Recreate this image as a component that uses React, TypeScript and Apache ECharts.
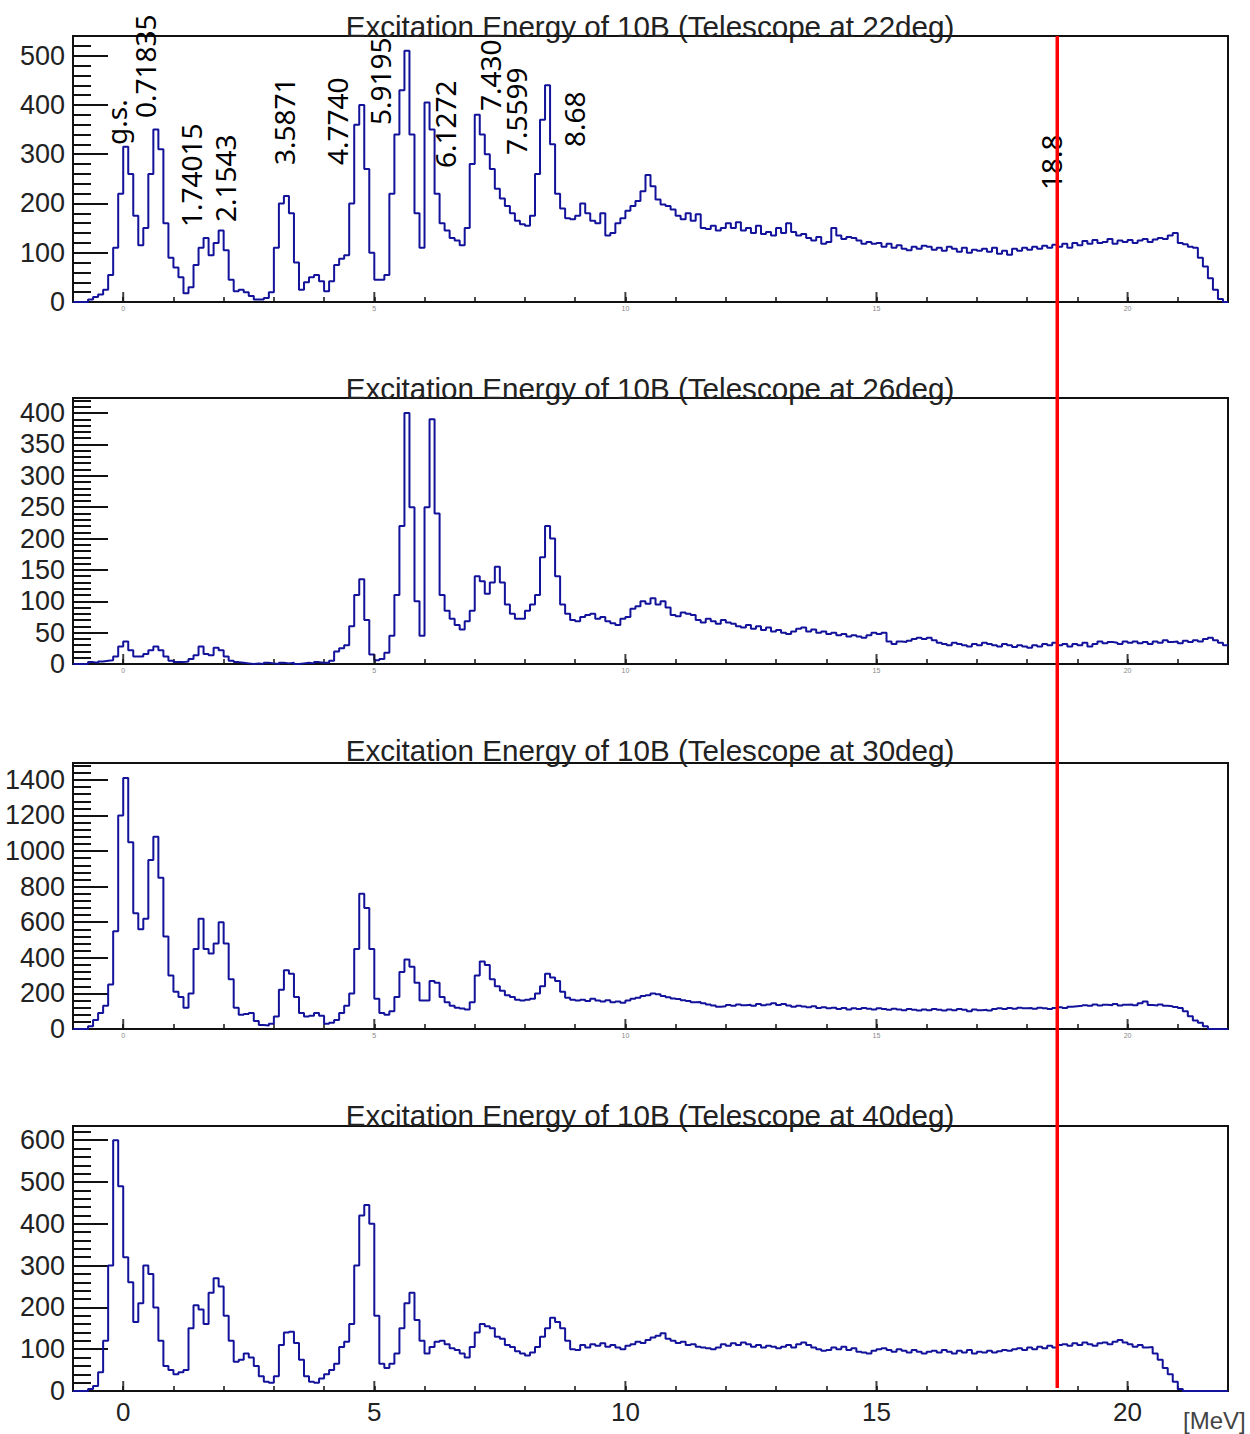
import React, { useEffect, useRef } from "react";
import * as echarts from "echarts";

// ---------- data ----------
const E_MIN = -1;
const E_MAX = 22;
const BIN_WIDTH = 0.1;
const RED_LINE_ENERGY = 18.6;
const MAJOR_X_TICKS = [0, 5, 10, 15, 20];

const titles = [
  "Excitation Energy of 10B (Telescope at 22deg)",
  "Excitation Energy of 10B (Telescope at 26deg)",
  "Excitation Energy of 10B (Telescope at 30deg)",
  "Excitation Energy of 10B (Telescope at 40deg)",
];

// counts per 0.1 MeV bin, starting at -1.0 MeV (each row = 1 MeV)
const counts22 = [
  0, 0, 0, 5, 10, 15, 25, 55, 110, 220,
  315, 260, 175, 115, 150, 260, 350, 310, 160, 90,
  70, 50, 18, 30, 75, 110, 130, 95, 120, 145,
  105, 45, 22, 25, 20, 12, 5, 5, 8, 20,
  110, 200, 215, 180, 80, 25, 40, 50, 55, 42,
  22, 42, 75, 88, 95, 200, 360, 400, 270, 100,
  45, 45, 55, 220, 340, 430, 510, 340, 180, 110,
  405, 350, 220, 160, 145, 130, 125, 115, 150, 280,
  380, 340, 300, 270, 230, 210, 195, 180, 165, 158,
  155, 175, 260, 370, 440, 320, 220, 190, 170, 168,
  175, 200, 180, 165, 160, 180, 135, 140, 160, 170,
  185, 195, 205, 225, 258, 235, 208, 198, 195, 188,
  175, 168, 180, 165, 178, 150, 148, 155, 145, 150,
  160, 150, 162, 145, 150, 140, 155, 138, 142, 135,
  150, 140, 160, 142, 135, 138, 130, 125, 132, 118,
  122, 150, 135, 128, 132, 130, 125, 118, 122, 118,
  120, 112, 118, 110, 115, 108, 105, 112, 108, 114,
  112, 106, 110, 104, 112, 108, 102, 110, 100, 106,
  104, 108, 102, 110, 98, 104, 96, 108, 104, 110,
  106, 112, 108, 114, 110, 116, 112, 118, 110, 120,
  115, 124, 118, 126, 120, 122, 128, 118, 125, 122,
  126, 120, 125, 128, 122, 127, 130, 128, 135, 140,
  120, 117, 112, 110, 90, 72, 48, 25, 6, 0,
];

const counts26 = [
  0, 0, 0, 3, 2, 4, 5, 6, 12, 28,
  36, 22, 12, 12, 16, 22, 28, 22, 12, 5,
  3, 3, 4, 8, 14, 28, 16, 14, 26, 22,
  12, 5, 3, 2, 1, 0, 1, 0, 2, 1,
  0, 2, 1, 2, 0, 1, 2, 1, 3, 2,
  2, 5, 20, 25, 30, 60, 110, 135, 70, 15,
  6, 8, 18, 45, 110, 220, 400, 250, 100, 45,
  250, 390, 240, 110, 85, 72, 62, 55, 68, 85,
  140, 132, 112, 130, 155, 130, 95, 80, 72, 72,
  85, 95, 110, 170, 220, 200, 140, 95, 80, 70,
  68, 75, 78, 80, 72, 75, 68, 65, 62, 72,
  75, 88, 92, 100, 96, 105, 95, 100, 90, 78,
  76, 82, 80, 78, 70, 66, 72, 68, 64, 70,
  66, 64, 60, 58, 62, 56, 60, 54, 58, 52,
  54, 50, 48, 52, 56, 58, 52, 55, 50, 52,
  48, 50, 46, 48, 44, 46, 44, 42, 46, 50,
  48, 50, 36, 32, 36, 35, 37, 40, 42, 40,
  42, 38, 34, 32, 30, 34, 32, 30, 28, 32,
  30, 34, 32, 30, 28, 32, 30, 27, 30, 28,
  26, 30, 28, 32, 30, 34, 30, 32, 28, 32,
  30, 34, 28, 32, 36, 33, 35, 34, 32, 36,
  34, 36, 33, 35, 32, 36, 34, 38, 35, 36,
  33, 37, 35, 38, 36, 40, 42, 38, 34, 30,
];

const counts30 = [
  0, 0, 0, 15, 50, 90, 130, 250, 550, 1200,
  1410, 1050, 650, 560, 620, 950, 1080, 850, 520, 300,
  210, 180, 120, 200, 450, 620, 450, 425, 480, 600,
  480, 280, 120, 80, 85, 90, 45, 22, 20, 30,
  70, 220, 330, 310, 180, 90, 70, 75, 90, 75,
  30, 35, 50, 90, 130, 200, 450, 760, 680, 450,
  170, 90, 80, 100, 180, 320, 390, 350, 260, 160,
  160, 270, 260, 180, 150, 130, 120, 115, 110, 150,
  300, 380, 360, 280, 240, 215, 190, 180, 165, 160,
  165, 170, 200, 240, 310, 290, 270, 210, 175, 165,
  160, 165, 158, 170, 160, 155, 162, 150, 155, 148,
  160, 170, 175, 185, 190, 200, 195, 185, 178, 172,
  168, 162, 158, 150, 152, 145, 138, 132, 125, 128,
  135, 130, 138, 134, 136, 130, 140, 134, 138, 145,
  135, 140, 132, 125, 130, 126, 122, 128, 118, 122,
  116, 120, 112, 118, 110, 116, 112, 118, 114, 110,
  116, 112, 108, 114, 110, 106, 112, 108, 104, 110,
  106, 112, 108, 104, 110, 106, 112, 108, 100, 110,
  105, 108, 104, 112, 116, 112, 118, 114, 120, 116,
  118, 114, 120, 116, 112, 118, 122, 118, 125, 128,
  130, 134, 130, 138, 132, 136, 134, 140, 132, 136,
  138, 134, 145, 155, 135, 132, 138, 130, 128, 124,
  118, 100, 72, 48, 35, 15, 0, 0, 0, 0,
];

const counts40 = [
  0, 0, 0, 5, 12, 45, 120, 300, 600, 490,
  320, 260, 165, 210, 300, 280, 200, 120, 60, 50,
  40, 45, 50, 150, 205, 195, 160, 235, 270, 250,
  180, 120, 70, 75, 90, 80, 60, 35, 22, 20,
  35, 110, 140, 142, 115, 75, 35, 22, 20, 30,
  40, 50, 65, 105, 118, 160, 300, 420, 445, 400,
  180, 65, 55, 65, 90, 150, 210, 235, 170, 120,
  90, 105, 118, 120, 112, 102, 98, 90, 80, 105,
  140, 160, 155, 150, 130, 125, 110, 105, 95, 90,
  85, 92, 105, 130, 150, 175, 165, 150, 120, 100,
  98, 110, 104, 112, 108, 114, 106, 110, 104, 100,
  108, 112, 118, 115, 122, 128, 132, 138, 125, 120,
  115, 118, 110, 112, 106, 104, 102, 100, 104, 112,
  108, 114, 110, 116, 112, 106, 110, 104, 108, 106,
  102, 106, 110, 104, 112, 116, 110, 104, 100, 96,
  98, 104, 100, 106, 98, 102, 94, 92, 90, 96,
  100, 102, 98, 94, 100, 96, 92, 98, 94, 90,
  94, 96, 92, 98, 94, 90, 96, 92, 98, 90,
  94, 92, 96, 92, 95, 98, 96, 100, 102, 98,
  104, 100, 106, 102, 108, 104, 110, 112, 108, 114,
  110, 116, 112, 108, 114, 116, 112, 118, 122, 116,
  112, 106, 110, 104, 105, 90, 75, 55, 40, 22,
  5, 0, 0, 0, 0, 0, 0, 0, 0, 0,
];

const panelCounts = [counts22, counts26, counts30, counts40];
const yMaxValues = [540, 424, 1495, 634];
const yMajorSteps = [100, 50, 200, 100];
const yMinorSteps = [20, 10, 40, 20];

const peakLabels = [
  { text: "g.s.", x: 116, y: 145 },
  { text: "0.71835", x: 145, y: 118 },
  { text: "1.74015", x: 191, y: 227 },
  { text: "2.1543", x: 225, y: 222 },
  { text: "3.5871", x: 284, y: 165 },
  { text: "4.7740", x: 337, y: 165 },
  { text: "5.9195", x: 380, y: 125 },
  { text: "6.1272", x: 445, y: 168 },
  { text: "7.430", x: 490, y: 111 },
  { text: "7.5599", x: 516, y: 155 },
  { text: "8.68", x: 574, y: 147 },
  { text: "18.8", x: 1051, y: 190 },
];

// ---------- layout ----------
const W = 1250;
const H = 1434;
const GRID_LEFT = 73;
const GRID_RIGHT = 22;
const GRID_TOPS = [36, 398, 763, 1126];
const GRID_HEIGHTS = [266, 266, 266, 265];
const TITLE_Y = [26, 388, 750, 1115];
const FONT = "'Liberation Sans', Arial, Helvetica, sans-serif";
const LINE_COLOR = "#12129a";
const AXIS_COLOR = "#111";

function toSeriesData(counts: number[]) {
  const pts: [number, number][] = counts.map((v, i) => [
    Math.round((E_MIN + i * BIN_WIDTH) * 10) / 10,
    v,
  ]);
  pts.push([E_MAX, counts[counts.length - 1]]);
  return pts;
}

export default function App() {
  const ref = useRef<HTMLDivElement>(null);

  useEffect(() => {
    document.body.style.margin = "0";
    if (!ref.current) return;
    const chart = echarts.init(ref.current, undefined, { renderer: "svg" });

    const grids = GRID_TOPS.map((top, i) => ({
      left: GRID_LEFT,
      right: GRID_RIGHT,
      top,
      height: GRID_HEIGHTS[i],
      show: true,
      borderColor: AXIS_COLOR,
      borderWidth: 2,
      backgroundColor: "transparent",
      containLabel: false,
      outerBoundsMode: "none",
    }));

    const xAxes = GRID_TOPS.map((_, i) => {
      const last = i === 3;
      return {
        type: "value",
        gridIndex: i,
        position: "bottom",
        min: E_MIN,
        max: E_MAX,
        interval: 1,
        axisLine: { show: false, onZero: false },
        splitLine: { show: false },
        axisTick: {
          show: true,
          inside: true,
          length: 5,
          lineStyle: { color: AXIS_COLOR, width: 1.5 },
        },
        axisLabel: {
          show: true,
          showMinLabel: false,
          showMaxLabel: false,
          fontFamily: FONT,
          fontSize: last ? 26 : 7,
          color: last ? "#222" : "#888",
          margin: last ? 8 : 3,
          formatter: (v: number) => (v % 5 === 0 ? String(v) : ""),
        },
      };
    });

    const yAxes: any[] = [];
    GRID_TOPS.forEach((_, i) => {
      yAxes.push({
        type: "value",
        gridIndex: i,
        position: "left",
        min: 0,
        max: yMaxValues[i],
        interval: yMajorSteps[i],
        axisLine: { show: false, onZero: false },
        splitLine: { show: false },
        axisTick: {
          show: true,
          inside: true,
          length: 35,
          lineStyle: { color: AXIS_COLOR, width: 2 },
        },
        axisLabel: {
          show: true,
          showMaxLabel: false,
          fontFamily: FONT,
          fontSize: 27,
          color: "#222",
          margin: 8,
          formatter: (v: number) => String(v),
        },
      });
      yAxes.push({
        type: "value",
        gridIndex: i,
        position: "left",
        offset: 0,
        min: 0,
        max: yMaxValues[i],
        interval: yMinorSteps[i],
        axisLine: { show: false, onZero: false },
        splitLine: { show: false },
        axisTick: {
          show: true,
          inside: true,
          length: 18,
          lineStyle: { color: AXIS_COLOR, width: 2 },
        },
        axisLabel: { show: false },
      });
    });

    const series: any[] = [];
    panelCounts.forEach((counts, i) => {
      series.push({
        type: "line",
        xAxisIndex: i,
        yAxisIndex: 2 * i,
        step: "end",
        symbol: "none",
        data: toSeriesData(counts),
        lineStyle: { color: LINE_COLOR, width: 2 },
        z: 3,
      });
      series.push({
        type: "scatter",
        xAxisIndex: i,
        yAxisIndex: 2 * i,
        silent: true,
        symbol: "rect",
        symbolSize: [2, 10],
        symbolOffset: [0, -5],
        itemStyle: { color: AXIS_COLOR },
        data: MAJOR_X_TICKS.map((v) => [v, 0]),
        z: 4,
      });
    });

    chart.setOption({
      animation: false,
      backgroundColor: "#fff",
      grid: grids,
      xAxis: xAxes,
      yAxis: yAxes,
      series,
    });

    const redX = chart.convertToPixel({ xAxisIndex: 0 }, RED_LINE_ENERGY) as number;

    const graphics: any[] = [];
    titles.forEach((t, i) => {
      graphics.push({
        type: "text",
        x: 650,
        y: TITLE_Y[i],
        z: 100,
        style: {
          text: t,
          fontFamily: FONT,
          fontSize: 29.6,
          fill: "#222",
          align: "center",
          verticalAlign: "middle",
        },
      });
    });
    peakLabels.forEach((p) => {
      graphics.push({
        type: "text",
        x: p.x,
        y: p.y,
        rotation: Math.PI / 2,
        z: 100,
        style: {
          text: p.text,
          fontFamily: "'Noto Sans', 'Open Sans', sans-serif",
          fontSize: 28,
          fill: "#000",
          align: "left",
          verticalAlign: "middle",
        },
      });
    });
    graphics.push({
      type: "text",
      x: 1183,
      y: 1420,
      z: 100,
      style: {
        text: "[MeV]",
        fontFamily: FONT,
        fontSize: 24,
        fill: "#444",
        align: "left",
        verticalAlign: "middle",
      },
    });
    graphics.push({
      type: "line",
      z: 120,
      shape: { x1: redX, y1: GRID_TOPS[0], x2: redX, y2: 1388 },
      style: { stroke: "#ff0000", lineWidth: 3.5 },
    });

    chart.setOption({ graphic: graphics });

    return () => {
      chart.dispose();
    };
  }, []);

  return <div ref={ref} style={{ width: W, height: H }} />;
}
